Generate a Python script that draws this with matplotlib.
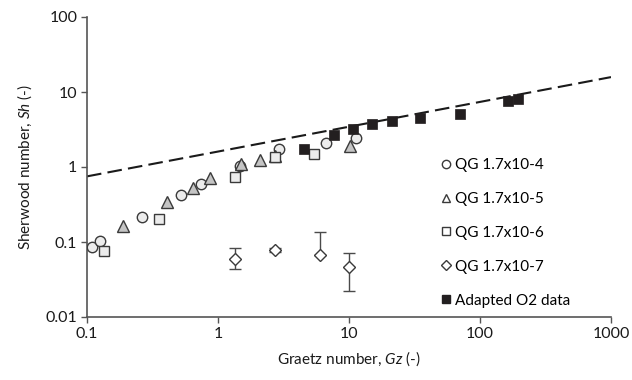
import matplotlib
matplotlib.use("Agg")
import matplotlib.pyplot as plt
from matplotlib.lines import Line2D

plt.rcParams['font.family'] = ['Lato', 'DejaVu Sans']
plt.rcParams['mathtext.fontset'] = 'custom'
plt.rcParams['mathtext.it'] = 'Lato:italic'
plt.rcParams['mathtext.rm'] = 'Lato'

# QG 1.7x10-4 (circles)
gz_qg4 = [0.11, 0.126, 0.264, 0.519, 0.738, 1.47, 2.94, 6.64, 11.4]
sh_qg4 = [0.087, 0.104, 0.213, 0.423, 0.588, 1.03, 1.72, 2.11, 2.44]

# QG 1.7x10-5 (triangles)
gz_qg5 = [0.189, 0.406, 0.648, 0.873, 1.50, 2.10, 2.72, 10.2]
sh_qg5 = [0.163, 0.344, 0.53, 0.707, 1.10, 1.24, 1.41, 1.91]

# QG 1.7x10-6 (open squares)
gz_qg6 = [0.136, 0.352, 1.36, 2.72, 5.43]
sh_qg6 = [0.077, 0.201, 0.743, 1.35, 1.49]

# QG 1.7x10-7 (diamonds with error bars)
gz_qg7 = [1.35, 2.72, 6.0, 10.0]
sh_qg7 = [0.060, 0.078, 0.0665, 0.047]
err_lo_qg7 = [0.017, 0.004, 0.0, 0.025]
err_hi_qg7 = [0.023, 0.004, 0.07, 0.024]

# Adapted O2 data (filled squares)
gz_o2 = [4.56, 7.68, 10.7, 15.1, 21.4, 35.0, 70.3, 165, 195]
sh_o2 = [1.72, 2.64, 3.18, 3.74, 4.14, 4.5, 5.05, 7.5, 8.0]

# dashed correlation line end points
line_gz = [0.1, 1000]
line_sh = [0.75, 15.8]

labels = ['QG 1.7x10-4', 'QG 1.7x10-5', 'QG 1.7x10-6', 'QG 1.7x10-7',
          'Adapted O2 data']

edge = '#3a3a3a'
fig = plt.figure(figsize=(6.32, 3.8), dpi=100)
ax = fig.add_axes([87 / 632, 63 / 380, 524 / 632, 300 / 380])

ax.plot(line_gz, line_sh, color='#1a1a1a', lw=1.5, dashes=(7, 3), zorder=1)

ax.plot(gz_qg4, sh_qg4, 'o', ms=7.5, mfc='#ececec', mec=edge, mew=1.0, zorder=3)
ax.plot(gz_qg5, sh_qg5, '^', ms=8, mfc='#c4c4c4', mec=edge, mew=1.0, zorder=3)
ax.plot(gz_qg6, sh_qg6, 's', ms=7, mfc='#ececec', mec=edge, mew=1.0, zorder=3)
ax.errorbar(gz_qg7, sh_qg7, yerr=[err_lo_qg7, err_hi_qg7], fmt='none',
            ecolor='#4a4a4a', elinewidth=1.0, capsize=4, capthick=1.0, zorder=2)
ax.plot(gz_qg7, sh_qg7, 'D', ms=6.5, mfc='white', mec=edge, mew=1.0, zorder=3)
ax.plot(gz_o2, sh_o2, 's', ms=7.5, mfc='#231f20', mec='#231f20', mew=0.5, zorder=4)

ax.set_xscale('log')
ax.set_yscale('log')
ax.set_xlim(0.1, 1000)
ax.set_ylim(0.01, 100)
ax.set_xticks([0.1, 1, 10, 100, 1000])
ax.set_xticklabels(['0.1', '1', '10', '100', '1000'])
ax.set_yticks([0.01, 0.1, 1, 10, 100])
ax.set_yticklabels(['0.01', '0.1', '1', '10', '100'])
ax.minorticks_off()

for s in ['top', 'right']:
    ax.spines[s].set_visible(False)
for s in ['left', 'bottom']:
    ax.spines[s].set_color('#555555')
    ax.spines[s].set_linewidth(1.2)
ax.tick_params(direction='out', length=4, width=1.0, color='#555555',
               labelsize=11.5, labelcolor='#1a1a1a', pad=3)

ax.set_xlabel('Graetz number, $\\mathit{Gz}$ (-)', fontsize=11, color='#1a1a1a',
              labelpad=6)
ax.set_ylabel('Sherwood number, $\\mathit{Sh}$ (-)', fontsize=11, color='#1a1a1a',
              labelpad=8)

handles = [
    Line2D([], [], ls='none', marker='o', ms=6, mfc='white', mec=edge),
    Line2D([], [], ls='none', marker='^', ms=6, mfc='white', mec=edge),
    Line2D([], [], ls='none', marker='s', ms=6, mfc='white', mec=edge),
    Line2D([], [], ls='none', marker='D', ms=5, mfc='white', mec=edge),
    Line2D([], [], ls='none', marker='s', ms=6, mfc='#231f20', mec='#231f20'),
]
ax.legend(handles, labels, loc='upper left', bbox_to_anchor=(0.665, 0.55),
          frameon=False, fontsize=11, handlelength=0.6, handletextpad=0.3,
          labelspacing=1.3, borderaxespad=0)

fig.savefig('out.png', dpi=100)
